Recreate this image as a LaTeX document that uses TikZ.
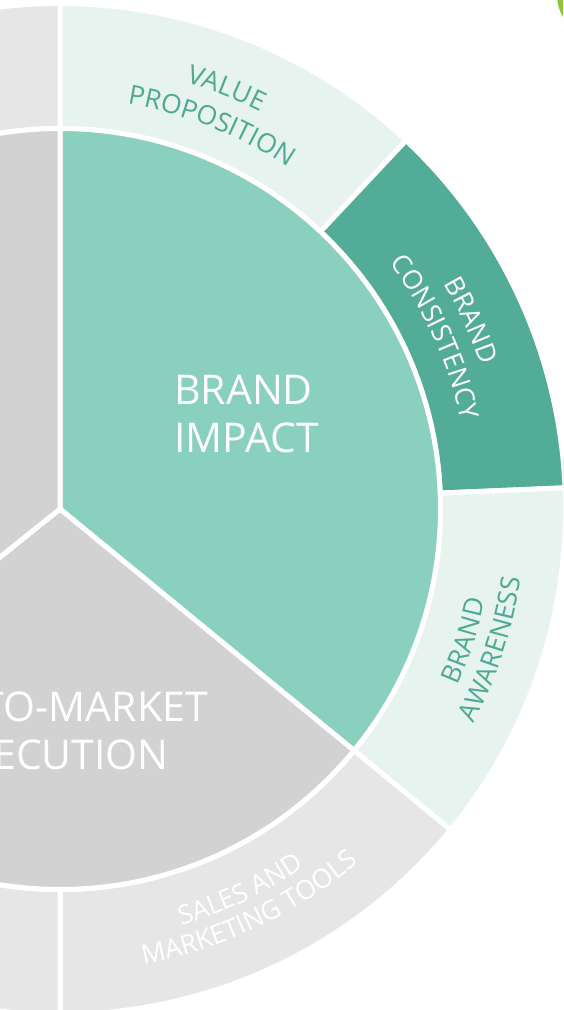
\documentclass[tikz,border=0pt]{standalone}
\usepackage{fontspec}
\setmainfont{Open Sans}
\usetikzlibrary{calc,decorations.text}
\definecolor{ringgray}{RGB}{230,230,230}
\definecolor{innergray}{RGB}{210,210,210}
\definecolor{tealmid}{RGB}{138,208,190}
\definecolor{tealdark}{RGB}{82,172,152}
\definecolor{teallight}{RGB}{231,243,239}
\definecolor{tealtext}{RGB}{77,170,145}
\definecolor{applegreen}{RGB}{140,198,63}
\newcommand\ringfont{\fontsize{26.5}{30}\selectfont}
\begin{document}
\begin{tikzpicture}[x=1pt,y=1pt,
  sector/.style={draw=white, line width=5pt, line join=round},
  bigtext/.style={font=\fontsize{41}{48}\selectfont, text=white, inner sep=0pt},
  ringlabel/.style={decorate, decoration={text along path, text align=center, text color=#1}}]
\useasboundingbox (0,0) rectangle (563,1010);
\clip (0,0) rectangle (563,1010);
\coordinate (C) at (60,501);
% outer ring
\path[sector, fill=teallight] ($(C)+(90:380.5pt)$) arc[start angle=90, end angle=46.8, radius=380.5pt] -- ($(C)+(46.8:505.5pt)$) arc[start angle=46.8, end angle=90, radius=505.5pt] -- cycle;
\path[sector, fill=tealdark] ($(C)+(46.8:380.5pt)$) arc[start angle=46.8, end angle=2.4, radius=380.5pt] -- ($(C)+(2.4:505.5pt)$) arc[start angle=2.4, end angle=46.8, radius=505.5pt] -- cycle;
\path[sector, fill=teallight] ($(C)+(2.4:380.5pt)$) arc[start angle=2.4, end angle=-39.4, radius=380.5pt] -- ($(C)+(-39.4:505.5pt)$) arc[start angle=-39.4, end angle=2.4, radius=505.5pt] -- cycle;
\path[sector, fill=ringgray] ($(C)+(-39.4:380.5pt)$) arc[start angle=-39.4, end angle=-90, radius=380.5pt] -- ($(C)+(-90:505.5pt)$) arc[start angle=-90, end angle=-39.4, radius=505.5pt] -- cycle;
\path[sector, fill=ringgray] ($(C)+(90:380.5pt)$) arc[start angle=90, end angle=270, radius=380.5pt] -- ($(C)+(270:505.5pt)$) arc[start angle=270, end angle=90, radius=505.5pt] -- cycle;
% inner disc
\path[sector, fill=tealmid] (C) -- ($(C)+(90:380.5pt)$) arc[start angle=90, end angle=-39.4, radius=380.5pt] -- cycle;
\path[sector, fill=innergray] (C) -- ($(C)+(-39.4:380.5pt)$) arc[start angle=-39.4, end angle=-141.3, radius=380.5pt] -- cycle;
\path[sector, fill=innergray] (C) -- ($(C)+(218.7:380.5pt)$) arc[start angle=218.7, end angle=90, radius=380.5pt] -- cycle;
% green element at the corner
\fill[applegreen] (600,1015) circle[radius=43pt];
% centre labels
\node[bigtext, anchor=base west] (bi1) at (174,605) {BRAND};
\node[bigtext, anchor=base west] (bi2) at (174,557) {IMPACT};
\node[bigtext, anchor=base east] (gtm1) at (208,288) {GO-TO-MARKET};
\node[bigtext, anchor=base east] (gtm2) at (169,240) {EXECUTION};
% ring labels
\path[ringlabel=tealtext, decoration={text={|\ringfont|VALUE}}] ($(C)+(90:445pt)$) arc[start angle=90, end angle=46.8, radius=445pt];
\path[ringlabel=tealtext, decoration={text={|\ringfont|PROPOSITION}}] ($(C)+(90:410.5pt)$) arc[start angle=90, end angle=46.8, radius=410.5pt];
\path[ringlabel=white, decoration={text={|\ringfont|BRAND}}] ($(C)+(46.8:445pt)$) arc[start angle=46.8, end angle=2.4, radius=445pt];
\path[ringlabel=white, decoration={text={|\ringfont|CONSISTENCY}}] ($(C)+(46.8:411pt)$) arc[start angle=46.8, end angle=2.4, radius=411pt];
\path[ringlabel=tealtext, decoration={text={|\ringfont|BRAND}}] ($(C)+(-39.4:435pt)$) arc[start angle=-39.4, end angle=3.4, radius=435pt];
\path[ringlabel=tealtext, decoration={text={|\ringfont|AWARENESS}}] ($(C)+(-39.4:466pt)$) arc[start angle=-39.4, end angle=3.4, radius=466pt];
\path[ringlabel=white, decoration={text={|\ringfont|SALES AND}}] ($(C)+(-90:434pt)$) arc[start angle=-90, end angle=-39.4, radius=434pt];
\path[ringlabel=white, decoration={text={|\ringfont|MARKETING TOOLS}}] ($(C)+(-90:463pt)$) arc[start angle=-90, end angle=-39.4, radius=463pt];
\end{tikzpicture}
\end{document}
